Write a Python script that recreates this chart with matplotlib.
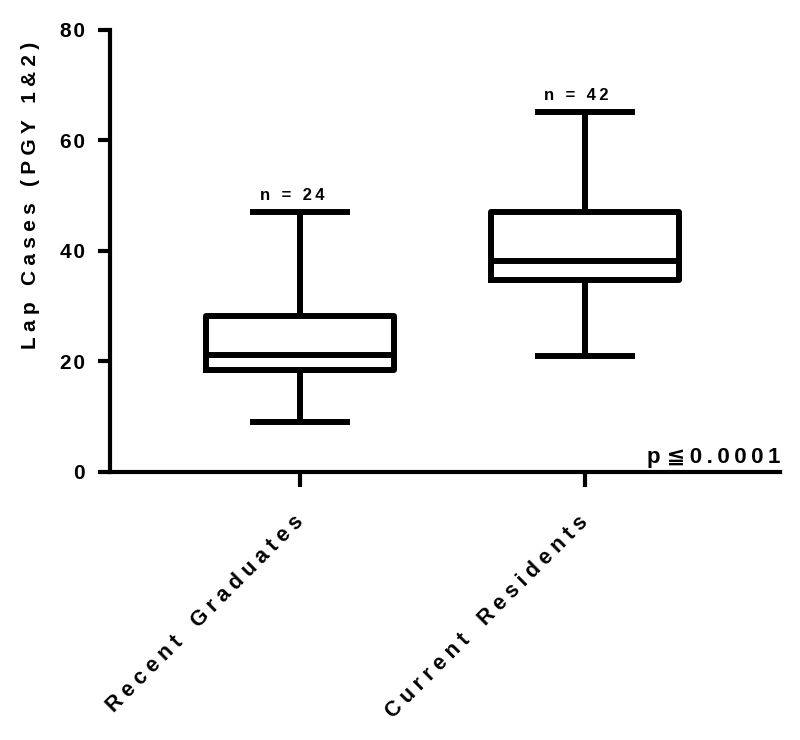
import matplotlib
matplotlib.use("Agg")
import matplotlib.pyplot as plt

categories = ["Recent Graduates", "Current Residents"]
whisker_low = [9.0, 21.0]
q1 = [18.4, 34.8]
median = [21.1, 38.1]
q3 = [28.2, 47.0]
whisker_high = [47.1, 65.2]
n_labels = ["n = 24", "n = 42"]
y_ticks = [0, 20, 40, 60, 80]
p_text = "p \u2266\u20090\u2009.\u20090\u20090\u20090\u20091"

FAM = ["Liberation Sans", "DejaVu Sans"]

def spaced(s, sep="\u2005", word_gap=" "):
    words = s.split(" ")
    return (sep + word_gap + sep).join(sep.join(list(w)) for w in words)

fig = plt.figure(figsize=(8, 7.4), dpi=100)
ax = fig.add_axes([0.1375, 0.3622, 0.8375, 0.5973])

positions = [1, 2]
stats = []
for i in range(len(categories)):
    stats.append(dict(med=median[i], q1=q1[i], q3=q3[i],
                      whislo=whisker_low[i], whishi=whisker_high[i],
                      fliers=[], label=categories[i]))

lw = 4.3
ax.bxp(stats, positions=positions, widths=0.66, showfliers=False,
       boxprops=dict(linewidth=lw, color="black"),
       medianprops=dict(linewidth=lw, color="black"),
       whiskerprops=dict(linewidth=lw, color="black"),
       capprops=dict(linewidth=lw, color="black"),
       capwidths=0.33)

ax.set_xlim(0.333, 2.684)
ax.set_ylim(0, 80)
ax.set_yticks(y_ticks)
ax.set_yticklabels([spaced(str(t), "\u200a") for t in y_ticks], family=FAM,
                   fontsize=15, fontweight="bold")
ax.set_xticks(positions)
ax.set_xticklabels([spaced(c, word_gap=" \u2009") for c in categories],
                   family=FAM, fontsize=15.5, fontweight="bold", rotation=45,
                   ha="right", va="center", rotation_mode="anchor")
for lab in ax.get_xticklabels():
    lab.set_x(lab.get_position()[0])

for side in ["top", "right"]:
    ax.spines[side].set_visible(False)
for side in ["left", "bottom"]:
    ax.spines[side].set_linewidth(3)
ax.tick_params(axis="y", width=3, length=9, direction="out", pad=9)
ax.tick_params(axis="x", width=3, length=11, direction="out", pad=23)

ax.set_ylabel(spaced("Lap Cases (PGY 1&2)"), family=FAM, fontsize=15,
              fontweight="bold")
ax.yaxis.set_label_coords(-0.104, 0.625)

for i in range(len(categories)):
    ax.annotate(spaced(n_labels[i], "\u2009"), (positions[i], whisker_high[i]),
                xytext=(-6, 6), textcoords="offset points",
                ha="center", va="bottom", family=FAM,
                fontsize=12, fontweight="bold")

ax.text(1.0, 0.008, p_text,
        transform=ax.transAxes, ha="right", va="bottom",
        family=FAM, fontsize=16, fontweight="bold")

fig.savefig("out.png", dpi=100)
